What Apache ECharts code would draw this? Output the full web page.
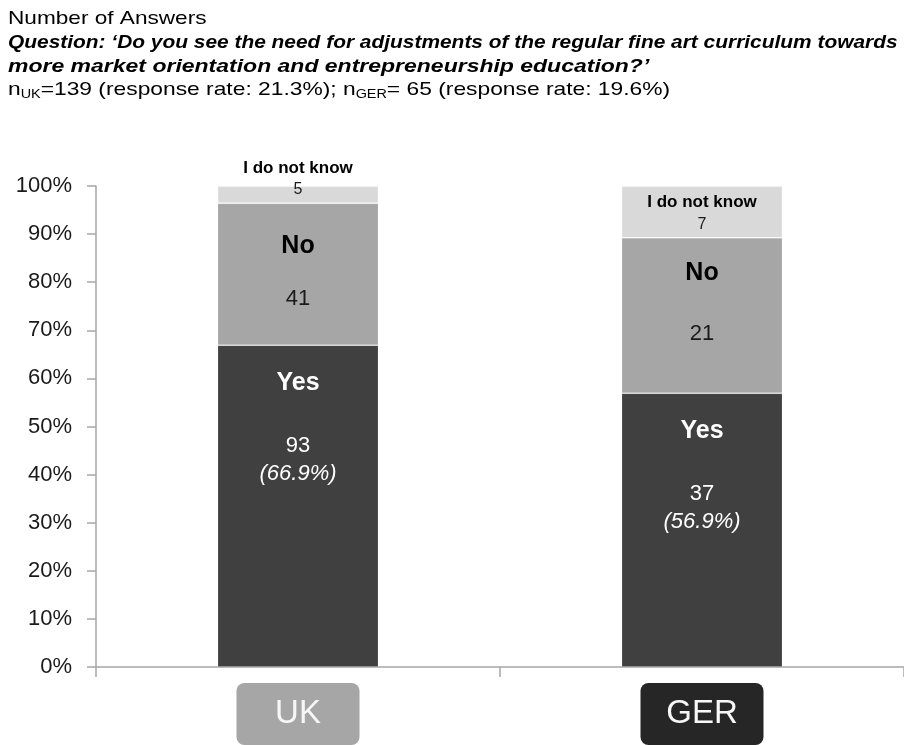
<!DOCTYPE html>
<html>
<head>
<meta charset="utf-8">
<title>Need for adjustments of the fine art curriculum</title>
<script src="https://cdn.jsdelivr.net/npm/echarts@6/dist/echarts.min.js"></script>
<style>
  html, body { margin: 0; padding: 0; background: #fff; }
  #chart { width: 904px; height: 745px; }
</style>
</head>
<body>
<div id="chart"></div>
<script>
// Survey answers per country (number of respondents)
const countries = ['UK', 'GER'];
const yesCounts = [93, 37];
const noCounts = [41, 21];
const unknownCounts = [5, 7];
const answerNames = ['Yes', 'No', 'I do not know'];
const yTicks = [0, 10, 20, 30, 40, 50, 60, 70, 80, 90, 100];

// Header lines
const headerTitle = 'Number of Answers';
const questionLine1 = 'Question: ‘Do you see the need for adjustments of the regular fine art curriculum towards';
const questionLine2 = 'more market orientation and entrepreneurship education?’';
const sampleLine = '{n|n}{s|UK}{n|=139 (response rate: 21.3%); n}{s|GER}{n|= 65 (response rate: 19.6%)}';

const totals = countries.map((_, i) => yesCounts[i] + noCounts[i] + unknownCounts[i]);
const share = (counts) => counts.map((c, i) => (c / totals[i]) * 100);

const FONT = '"Liberation Sans", Arial, sans-serif';

// Per-country vertical placement of the "No" caption inside its segment
const noLabelRich = [
  { t: 86, v: 20 },
  { t: 70, v: 53 }
];

function buildData(counts, extraLabel) {
  const pct = share(counts);
  return pct.map((p, i) => {
    const item = { value: p, count: counts[i] };
    if (extraLabel) item.label = extraLabel(i);
    return item;
  });
}

function headerText(text, y, scaleX, weight, style) {
  return {
    type: 'text',
    x: 8,
    y: y,
    scaleX: scaleX,
    silent: true,
    style: {
      text: text,
      fill: '#000',
      fontSize: 19,
      fontFamily: FONT,
      fontWeight: weight,
      fontStyle: style,
      align: 'left',
      verticalAlign: 'middle',
      textAlign: 'left',
      textVerticalAlign: 'middle'
    }
  };
}

const chart = echarts.init(document.getElementById('chart'));

const option = {
  animation: false,
  backgroundColor: '#ffffff',
  graphic: [
    headerText(headerTitle, 19, 1.19, 'normal', 'normal'),
    headerText(questionLine1, 43, 1.10, 'bold', 'italic'),
    headerText(questionLine2, 66.5, 1.21, 'bold', 'italic'),
    {
      type: 'text',
      x: 8,
      y: 90,
      scaleX: 1.2,
      silent: true,
      style: {
        text: sampleLine,
        fill: '#000',
        fontSize: 19,
        fontFamily: FONT,
        align: 'left',
        verticalAlign: 'middle',
        textAlign: 'left',
        textVerticalAlign: 'middle',
        rich: {
          n: { fontSize: 19, lineHeight: 22, fill: '#000', fontFamily: FONT, fontWeight: 'normal' },
          s: { fontSize: 12, lineHeight: 10, fill: '#000', fontFamily: FONT, fontWeight: 'normal', verticalAlign: 'bottom' }
        }
      }
    }
  ],
  grid: {
    left: 96,
    width: 810,
    top: 186,
    bottom: 78,
    containLabel: false
  },
  xAxis: {
    type: 'category',
    data: countries,
    boundaryGap: true,
    axisLine: { show: true, lineStyle: { color: '#a6a6a6', width: 1.5 } },
    axisTick: { show: true, length: 10, alignWithLabel: false, lineStyle: { color: '#a6a6a6', width: 1.5 } },
    axisLabel: {
      margin: 16,
      interval: 0,
      formatter: (v) => (v === 'UK' ? '{uk|' + v + '}' : '{ger|' + v + '}'),
      rich: {
        uk: {
          width: 123, height: 62, lineHeight: 62, align: 'center',
          backgroundColor: '#a6a6a6', borderRadius: 8,
          color: '#f7f7f7', fontSize: 33, fontFamily: FONT
        },
        ger: {
          width: 123, height: 62, lineHeight: 62, align: 'center',
          backgroundColor: '#262626', borderRadius: 8,
          color: '#f7f7f7', fontSize: 33, fontFamily: FONT
        }
      }
    }
  },
  yAxis: {
    type: 'value',
    min: yTicks[0],
    max: yTicks[yTicks.length - 1],
    interval: yTicks[1] - yTicks[0],
    axisLine: { show: true, lineStyle: { color: '#a6a6a6', width: 1.5 } },
    axisTick: { show: true, length: 9, lineStyle: { color: '#a6a6a6', width: 1.5 } },
    splitLine: { show: false },
    axisLabel: {
      margin: 24,
      formatter: '{value}%',
      color: '#1a1a1a',
      fontSize: 22,
      fontFamily: FONT
    }
  },
  series: [
    {
      name: answerNames[0],
      type: 'bar',
      stack: 'answers',
      barWidth: 161,
      itemStyle: { color: '#404040', borderColor: 'rgba(255,255,255,0.15)', borderWidth: 1 },
      label: {
        show: true,
        position: 'insideTop',
        distance: 0,
        formatter: (p) => '{t|' + p.seriesName + '}\n{v|' + p.data.count + '}\n{p|(' + p.value.toFixed(1) + '%)}',
        rich: {
          t: { fontSize: 25, fontWeight: 'bold', color: '#ffffff', lineHeight: 76, fontFamily: FONT },
          v: { fontSize: 22, color: '#ffffff', lineHeight: 49, fontFamily: FONT },
          p: { fontSize: 22, fontStyle: 'italic', color: '#ffffff', lineHeight: 7, fontFamily: FONT }
        }
      },
      data: buildData(yesCounts)
    },
    {
      name: answerNames[1],
      type: 'bar',
      stack: 'answers',
      barWidth: 161,
      itemStyle: { color: '#a6a6a6', borderColor: 'rgba(255,255,255,0.15)', borderWidth: 1 },
      label: {
        show: true,
        position: 'insideTop',
        distance: 0,
        formatter: (p) => '{t|' + p.seriesName + '}\n{v|' + p.data.count + '}',
        rich: {
          t: { fontSize: 25, fontWeight: 'bold', color: '#000000', lineHeight: 86, fontFamily: FONT },
          v: { fontSize: 22, color: '#1a1a1a', lineHeight: 20, fontFamily: FONT }
        }
      },
      data: buildData(noCounts, (i) => ({
        rich: {
          t: { fontSize: 25, fontWeight: 'bold', color: '#000000', lineHeight: noLabelRich[i].t, fontFamily: FONT },
          v: { fontSize: 22, color: '#1a1a1a', lineHeight: noLabelRich[i].v, fontFamily: FONT }
        }
      }))
    },
    {
      name: answerNames[2],
      type: 'bar',
      stack: 'answers',
      barWidth: 161,
      itemStyle: { color: '#d9d9d9', borderColor: 'rgba(255,255,255,0.35)', borderWidth: 1 },
      label: {
        show: true,
        position: 'insideBottom',
        distance: 0,
        formatter: (p) => '{t|' + p.seriesName + '}\n{v|' + p.data.count + '}',
        rich: {
          t: { fontSize: 17, fontWeight: 'bold', color: '#000000', lineHeight: 16, fontFamily: FONT },
          v: { fontSize: 16, color: '#1a1a1a', lineHeight: 27, fontFamily: FONT }
        }
      },
      data: buildData(unknownCounts)
    }
  ]
};

chart.setOption(option);
</script>
</body>
</html>
